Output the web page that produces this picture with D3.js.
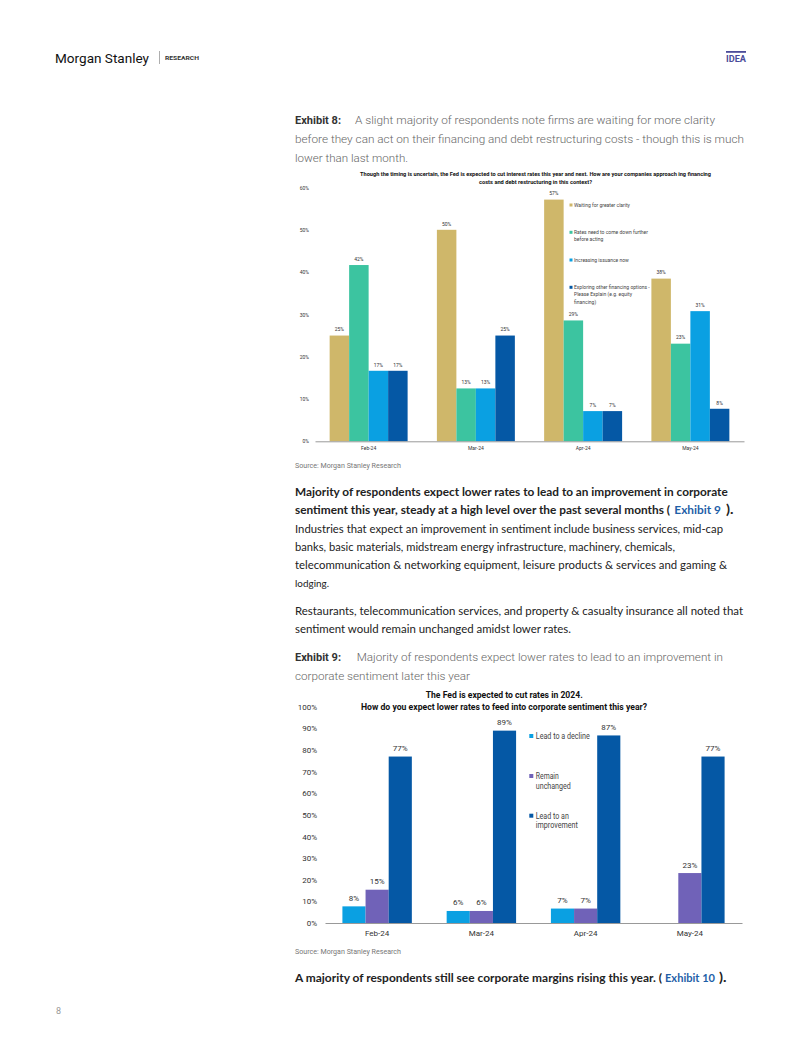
<!DOCTYPE html>
<html><head><meta charset="utf-8">
<script src="https://cdn.jsdelivr.net/npm/d3@7"></script>
<style>
html,body{margin:0;padding:0;background:#fff;}
svg{display:block;}
</style></head>
<body>
<svg id="page" width="802" height="1037"></svg>
<script>
// ---------- DATA ----------
const months = ["Feb-24", "Mar-24", "Apr-24", "May-24"];

// Exhibit 8
const ex8Series = ["Waiting for greater clarity", "Rates need to come down further before acting", "Increasing issuance now", "Exploring other financing options - Please Explain (e.g. equity financing)"];
const ex8Waiting   = [25.0, 50.0, 57.14, 38.46];
const ex8RatesDown = [41.67, 12.5, 28.57, 23.08];
const ex8Issuance  = [16.67, 12.5, 7.14, 30.77];
const ex8Exploring = [16.67, 25.0, 7.14, 7.69];
const ex8Ticks = [0, 10, 20, 30, 40, 50, 60];
const ex8Colors = ["#CFB76A", "#3CC4A0", "#0AA0E2", "#0558A5"];
const ex8LegendLines = [["Waiting for greater clarity"], ["Rates need to come down further", "before acting"], ["Increasing issuance now"], ["Exploring other financing options -", "Please Explain (e.g. equity", "financing)"]];

// Exhibit 9
const ex9Series = ["Lead to a decline", "Remain unchanged", "Lead to an improvement"];
const ex9Decline   = [7.69, 5.56, 6.67, 0];
const ex9Unchanged = [15.38, 5.56, 6.67, 23.08];
const ex9Improve   = [76.92, 88.89, 86.67, 76.92];
const ex9Ticks = [0, 10, 20, 30, 40, 50, 60, 70, 80, 90, 100];
const ex9Colors = ["#0AA0E2", "#7062B8", "#0558A5"];
const ex9LegendLines = [["Lead to a decline"], ["Remain", "unchanged"], ["Lead to an", "improvement"]];
const ex9LegendWidths = [[54], [23, 35], [33, 42]];

const svg = d3.select("#page");
const pct = v => Math.round(v) + "%";

// fit helper: shrink font so natural width <= w, then pin length to w
function fitText(sel, fs, w) {
  sel.attr("font-size", fs);
  const nat = sel.node().getComputedTextLength();
  if (nat > w) sel.attr("font-size", fs * w / nat * 0.995);
  sel.attr("textLength", w).attr("lengthAdjust", "spacingAndGlyphs");
  return sel;
}

// ---------- HEADER ----------
fitText(svg.append("text").attr("x", 55).attr("y", 62.5).attr("font-family", "Roboto, sans-serif")
  .attr("fill", "#111").text("Morgan Stanley"), 16.5, 94);
svg.append("line").attr("x1", 159.5).attr("x2", 159.5).attr("y1", 51).attr("y2", 64).attr("stroke", "#999").attr("stroke-width", 0.8);
fitText(svg.append("text").attr("x", 165).attr("y", 60).attr("font-family", "Roboto, sans-serif").attr("font-weight", "bold")
  .attr("fill", "#333").text("RESEARCH"), 5.5, 34);
svg.append("rect").attr("x", 726).attr("y", 51).attr("width", 20).attr("height", 1.8).attr("fill", "#4B4C9A");
fitText(svg.append("text").attr("x", 726).attr("y", 62).attr("font-family", "Roboto, sans-serif").attr("font-weight", "bold")
  .attr("fill", "#4B4C9A").text("IDEA"), 8.5, 20);

// ---------- TEXT HELPERS ----------
function exhibitHeading(label, lines, y0) {
  fitText(svg.append("text").attr("x", 295).attr("y", y0).attr("font-family", "Roboto, sans-serif").attr("font-weight", "bold")
    .attr("fill", "#333").text(label), 12.5, 46);
  lines.forEach((l, i) => {
    fitText(svg.append("text").attr("x", l.x).attr("y", y0 + i * 19).attr("font-family", "Roboto, sans-serif").attr("font-weight", 300)
      .attr("fill", "#666").text(l.t), 12.8, l.w);
  });
}
// each segment: {t, x, w, b, c}
function bodyLine(parts, y) {
  parts.forEach(p => {
    fitText(svg.append("text").attr("x", p.x).attr("y", y).attr("font-family", "Lato, 'Open Sans', sans-serif")
      .attr("font-weight", p.b ? "bold" : "normal").attr("fill", p.c || "#222").text(p.t), 12.6, p.w);
  });
}

exhibitHeading("Exhibit 8:", [
  {x: 355, w: 360, t: "A slight majority of respondents note firms are waiting for more clarity"},
  {x: 295, w: 449, t: "before they can act on their financing and debt restructuring costs - though this is much"},
  {x: 295, w: 113, t: "lower than last month."}
], 124);

// ---------- CHART HELPERS ----------
function groupedBars(cfg) {
  const g = svg.append("g");
  const x0 = d3.scaleBand().domain(months).range(cfg.xr).paddingInner(cfg.pad).paddingOuter(cfg.pad / 2);
  const x1 = d3.scaleBand().domain(cfg.series).range([0, x0.bandwidth()]);
  const y = d3.scaleLinear().domain([0, cfg.ymax]).range(cfg.yr);
  const rows = months.map((m, i) => ({m, vals: cfg.values.map((arr, k) => ({s: cfg.series[k], v: arr[i], k}))}));
  const grp = g.selectAll("g.grp").data(rows).join("g").attr("transform", d => `translate(${x0(d.m)},0)`);
  grp.selectAll("rect").data(d => d.vals.filter(v => v.v > 0)).join("rect")
    .attr("x", d => x1(d.s)).attr("width", x1.bandwidth())
    .attr("y", d => y(d.v)).attr("height", d => y(0) - y(d.v)).attr("fill", d => cfg.colors[d.k]);
  grp.selectAll("text.lbl").data(d => d.vals.filter(v => v.v > 0)).join("text").attr("class", "lbl")
    .attr("x", d => x1(d.s) + x1.bandwidth() / 2).attr("y", d => y(d.v) - cfg.lblOff)
    .attr("text-anchor", "middle").attr("font-family", "Roboto, sans-serif").attr("font-size", cfg.fs)
    .attr("fill", "#333").text(d => pct(d.v));
  // y axis
  const ya = g.append("g").attr("transform", `translate(${cfg.xr[0]},0)`)
    .call(d3.axisLeft(y).tickValues(cfg.ticks).tickSize(0).tickPadding(cfg.yPad).tickFormat(d => d + "%"));
  ya.select(".domain").remove();
  ya.selectAll("text").attr("font-family", "Roboto, sans-serif").attr("font-size", cfg.fs).attr("fill", "#333");
  // x axis
  const xa = g.append("g").attr("transform", `translate(0,${y(0)})`)
    .call(d3.axisBottom(x0).tickSize(0).tickPadding(cfg.xPad));
  xa.select(".domain").attr("stroke", "#999").attr("stroke-width", 1);
  xa.selectAll("text").attr("font-family", "Roboto, sans-serif").attr("font-size", cfg.fs).attr("fill", "#333");
  return {x0, y};
}
function legend(items, colors, x, ys, lh, fs, sq, widths) {
  items.forEach((lines, i) => {
    svg.append("rect").attr("x", x).attr("y", ys[i] - sq / 2).attr("width", sq).attr("height", sq).attr("fill", colors[i]);
    lines.forEach((l, j) => {
      const t = svg.append("text").attr("x", x + sq + (fs > 6 ? 2.5 : 1.5)).attr("y", ys[i] + j * lh + fs * 0.35)
        .attr("font-family", "Roboto, sans-serif").attr("font-size", fs).attr("fill", "#444").text(l);
      if (widths) t.attr("textLength", widths[i][j]).attr("lengthAdjust", "spacingAndGlyphs");
    });
  });
}
function title(lines) {
  lines.forEach(l => {
    fitText(svg.append("text").attr("x", l.cx - l.w / 2).attr("y", l.y).attr("font-family", "Roboto, sans-serif")
      .attr("font-weight", "bold").attr("fill", "#111").text(l.t), l.fs, l.w);
  });
}

// ---------- EXHIBIT 8 CHART ----------
title([
  {cx: 535.5, y: 176.2, w: 351, fs: 5.8, t: "Though the timing is uncertain, the Fed is expected to cut interest rates this year and next. How are your companies approach ing financing"},
  {cx: 535.5, y: 183.6, w: 113, fs: 5.8, t: "costs and debt restructuring in this context?"}
]);
groupedBars({xr: [315, 744], pad: 0.273, yr: [441.3, 187.5], ymax: 60, ticks: ex8Ticks,
  series: ex8Series, values: [ex8Waiting, ex8RatesDown, ex8Issuance, ex8Exploring], colors: ex8Colors,
  fs: 5, lblOff: 4.2, yPad: 6, xPad: 5});
legend(ex8LegendLines, ex8Colors, 569.5, [205, 232.3, 260, 287.3], 7.4, 5, 3);
fitText(svg.append("text").attr("x", 295).attr("y", 467.5).attr("font-family", "Roboto, sans-serif")
  .attr("fill", "#777").text("Source: Morgan Stanley Research"), 7, 106);

// ---------- BODY TEXT ----------
bodyLine([{x: 295, w: 432.7, b: true, t: "Majority of respondents expect lower rates to lead to an improvement in corporate"}], 496);
bodyLine([
  {x: 295, w: 375, b: true, t: "sentiment this year, steady at a high level over the past several months ("},
  {x: 674.3, w: 46.7, b: true, c: "#1F5FA8", t: "Exhibit 9"},
  {x: 726, w: 7.5, b: true, t: ")."}
], 514);
bodyLine([{x: 295, w: 428, t: "Industries that expect an improvement in sentiment include business services, mid-cap"}], 532.5);
bodyLine([{x: 295, w: 380, t: "banks, basic materials, midstream energy infrastructure, machinery, chemicals,"}], 551);
bodyLine([{x: 295, w: 432, t: "telecommunication & networking equipment, leisure products & services and gaming &"}], 569);
bodyLine([{x: 295, w: 34, t: "lodging."}], 586.5);
bodyLine([{x: 295, w: 448, t: "Restaurants, telecommunication services, and property & casualty insurance all noted that"}], 614.5);
bodyLine([{x: 295, w: 276, t: "sentiment would remain unchanged amidst lower rates."}], 633);

exhibitHeading("Exhibit 9:", [
  {x: 356.7, w: 366.3, t: "Majority of respondents expect lower rates to lead to an improvement in"},
  {x: 295, w: 175, t: "corporate sentiment later this year"}
], 660.5);

// ---------- EXHIBIT 9 CHART ----------
title([
  {cx: 504.2, y: 697.5, w: 157, fs: 9.5, t: "The Fed is expected to cut rates in 2024."},
  {cx: 504, y: 709.5, w: 286, fs: 9.5, t: "How do you expect lower rates to feed into corporate sentiment this year?"}
]);
groupedBars({xr: [325, 742], pad: 0.334, yr: [923, 706.6], ymax: 100, ticks: ex9Ticks,
  series: ex9Series, values: [ex9Decline, ex9Unchanged, ex9Improve], colors: ex9Colors,
  fs: 8, lblOff: 5.5, yPad: 8, xPad: 7});
legend(ex9LegendLines, ex9Colors, 529.3, [736, 776, 815.7], 9.6, 8.3, 4, ex9LegendWidths);
fitText(svg.append("text").attr("x", 295).attr("y", 953.5).attr("font-family", "Roboto, sans-serif")
  .attr("fill", "#777").text("Source: Morgan Stanley Research"), 7, 106);

bodyLine([
  {x: 295, w: 367, b: true, t: "A majority of respondents still see corporate margins rising this year. ("},
  {x: 665, w: 50, b: true, c: "#1F5FA8", t: "Exhibit 10"},
  {x: 719, w: 7.5, b: true, t: ")."}
], 981.5);

svg.append("text").attr("x", 56).attr("y", 1014).attr("font-family", "Roboto, sans-serif").attr("font-size", 9)
  .attr("fill", "#999").text("8");
</script>
</body></html>
